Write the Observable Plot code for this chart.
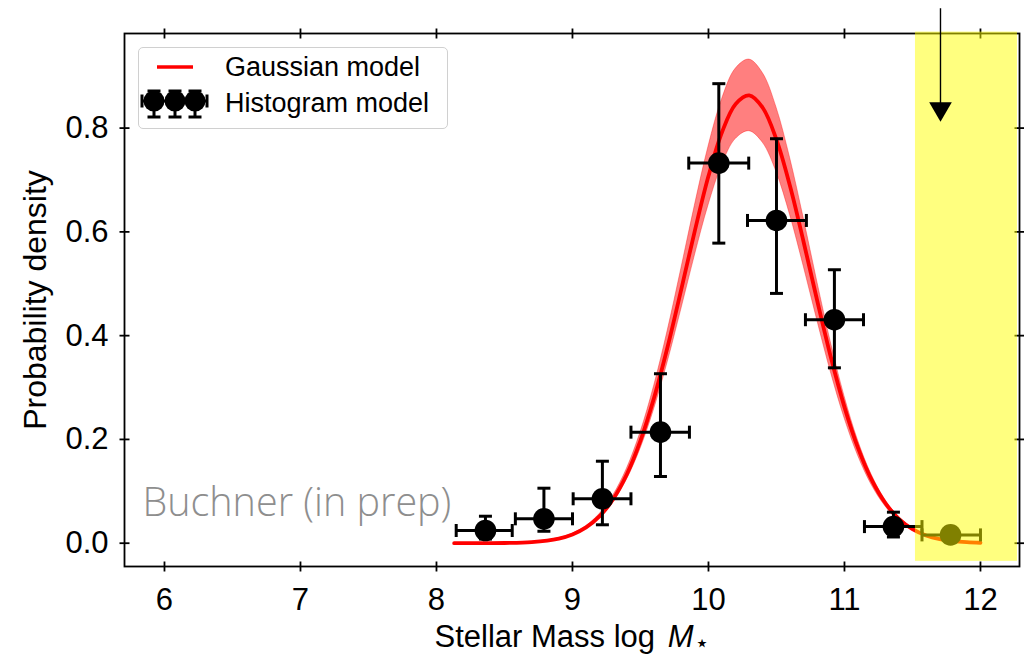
<!DOCTYPE html>
<html><head><meta charset="utf-8">
<script src="https://cdn.jsdelivr.net/npm/d3@7"></script>
<script src="https://cdn.jsdelivr.net/npm/@observablehq/plot@0.6"></script>
<style>
body{margin:0;background:#fff;}
#wrap{position:relative;width:1024px;height:656px;font-family:"Liberation Sans",Arial,Helvetica,sans-serif;}
#legend{position:absolute;left:138px;top:47px;width:310px;height:82px;box-sizing:border-box;border:1px solid #d0d0d0;border-radius:5px;background:rgba(255,255,255,0.85);}
#legend svg{position:absolute;left:-1px;top:-1px;overflow:visible;}
</style></head><body><div id="wrap"></div>
<script>
// ---- Gaussian model ----
const gaussX    = [8.13, 8.3, 8.5, 8.7, 8.9, 9.0, 9.1, 9.2, 9.3, 9.4, 9.5, 9.6, 9.7, 9.8, 9.9, 10.0, 10.1, 10.2, 10.3, 10.4, 10.5, 10.6, 10.7, 10.8, 10.9, 11.0, 11.1, 11.2, 11.3, 11.4, 11.5, 11.6, 11.7, 11.8, 11.9, 12.0];
const gaussMean = [0.0000, 0.0001, 0.0004, 0.0022, 0.0090, 0.0169, 0.0304, 0.0521, 0.0852, 0.1328, 0.1975, 0.2802, 0.3790, 0.4893, 0.6025, 0.7075, 0.7924, 0.8466, 0.8630, 0.8387, 0.7776, 0.6877, 0.5801, 0.4668, 0.3582, 0.2623, 0.1831, 0.1219, 0.0775, 0.0469, 0.0271, 0.0150, 0.0079, 0.0039, 0.0019, 0.0009];
const gaussLo   = [0.0000, 0.0001, 0.0004, 0.0020, 0.0083, 0.0155, 0.0280, 0.0479, 0.0784, 0.1222, 0.1817, 0.2578, 0.3487, 0.4502, 0.5543, 0.6509, 0.7290, 0.7789, 0.7940, 0.7716, 0.7154, 0.6327, 0.5337, 0.4295, 0.3295, 0.2413, 0.1685, 0.1121, 0.0713, 0.0431, 0.0249, 0.0138, 0.0073, 0.0036, 0.0017, 0.0008];
const gaussHi   = [0.0000, 0.0001, 0.0004, 0.0024, 0.0097, 0.0183, 0.0328, 0.0563, 0.0920, 0.1434, 0.2133, 0.3026, 0.4093, 0.5284, 0.6507, 0.7641, 0.8558, 0.9143, 0.9320, 0.9058, 0.8398, 0.7427, 0.6265, 0.5041, 0.3869, 0.2833, 0.1977, 0.1317, 0.0837, 0.0507, 0.0293, 0.0162, 0.0085, 0.0042, 0.0021, 0.0010];

// ---- Histogram model ----
const histX   = [8.36, 8.79, 9.22, 9.647, 10.076, 10.50, 10.926, 11.36, 11.78];
const histY   = [0.0245, 0.047, 0.0856, 0.214, 0.7325, 0.622, 0.4307, 0.032, 0.016];
const histYLo = [0.008, 0.023, 0.0355, 0.1286, 0.5783, 0.4814, 0.338, 0.012, 0.005];
const histYHi = [0.052, 0.106, 0.158, 0.3266, 0.8856, 0.7795, 0.527, 0.0598, 0.030];
const histXLo = [8.145, 8.58, 9.005, 9.43, 9.855, 10.287, 10.713, 11.147, 11.57];
const histXHi = [8.557, 9.00, 9.43, 9.86, 10.296, 10.72, 11.14, 11.57, 12.00];

// ---- Highlight band, arrow, annotation ----
const bandX1 = [11.522], bandX2 = [12.272], bandY1 = [-0.035], bandY2 = [0.985];
const arrowX = [11.706], arrowYStart = [1.031], arrowYEnd = [0.845], arrowHeadY = [0.8373];
const noteText = ["Buchner (in prep)"], noteX = [5.838], noteY = [0.053];

// ---- Axes ----
const xTicks = [6, 7, 8, 9, 10, 11, 12];
const xTickLabels = ["6", "7", "8", "9", "10", "11", "12"];
const yTicks = [0.0, 0.2, 0.4, 0.6, 0.8];
const yTickLabels = ["0.0", "0.2", "0.4", "0.6", "0.8"];
const xLabelText = "Stellar Mass log ", xLabelVar = "M", xLabelSub = "⋆";
const yLabel = "Probability density";
const legendLabels = ["Gaussian model", "Histogram model"];

const gauss = gaussX.map((x, i) => ({x, m: gaussMean[i], lo: gaussLo[i], hi: gaussHi[i]}));
const hist = histX.map((x, i) => ({x, y: histY[i], ylo: histYLo[i], yhi: histYHi[i], xlo: histXLo[i], xhi: histXHi[i]}));
const band = bandX1.map((x1, i) => ({x1, x2: bandX2[i], y1: bandY1[i], y2: bandY2[i]}));
const arrow = arrowX.map((x, i) => ({x, y1: arrowYStart[i], y2: arrowYEnd[i], yh: arrowHeadY[i]}));
const notes = noteText.map((t, i) => ({t, x: noteX[i], y: noteY[i]}));
const xt = xTicks.map((v, i) => ({v, label: xTickLabels[i]}));
const yt = yTicks.map((v, i) => ({v, label: yTickLabels[i]}));

const capH = {draw(ctx, size) { const r = Math.sqrt(size / Math.PI); ctx.moveTo(-r, 0); ctx.lineTo(r, 0); }};
const capV = {draw(ctx, size) { const r = Math.sqrt(size / Math.PI); ctx.moveTo(0, -r); ctx.lineTo(0, r); }};
const capStyle = {fill: "none", stroke: "black", strokeWidth: 3, r: 6.5};
const tickStyle = {fill: "none", stroke: "black", strokeWidth: 1.8, r: 5};

const chart = Plot.plot({
  width: 1024, height: 656,
  marginLeft: 124, marginRight: 5, marginTop: 33, marginBottom: 90,
  style: {fontFamily: "'Liberation Sans', Arial, Helvetica, sans-serif", fontSize: "31px", color: "black", background: "white", overflow: "visible"},
  x: {domain: [5.706, 12.287], axis: null},
  y: {domain: [-0.0449, 0.9823], axis: null},
  marks: [
    Plot.areaY(gauss, {x: "x", y1: "lo", y2: "hi", fill: "#ff0000", fillOpacity: 0.5, stroke: "#ff0000", strokeOpacity: 0.35, strokeWidth: 1, curve: "catmull-rom"}),
    Plot.lineY(gauss, {x: "x", y: "m", stroke: "#ff0000", strokeWidth: 3.8, curve: "catmull-rom"}),
    Plot.link(hist, {x1: "x", x2: "x", y1: "ylo", y2: "yhi", stroke: "black", strokeWidth: 3}),
    Plot.link(hist, {x1: "xlo", x2: "xhi", y1: "y", y2: "y", stroke: "black", strokeWidth: 3}),
    Plot.dot(hist, {x: "x", y: "ylo", symbol: capH, ...capStyle}),
    Plot.dot(hist, {x: "x", y: "yhi", symbol: capH, ...capStyle}),
    Plot.dot(hist, {x: "xlo", y: "y", symbol: capV, ...capStyle}),
    Plot.dot(hist, {x: "xhi", y: "y", symbol: capV, ...capStyle}),
    Plot.dot(hist, {x: "x", y: "y", r: 10.8, fill: "black", stroke: null}),
    Plot.frame({stroke: "black", strokeWidth: 1.8}),
    // ticks crossing the frame on all four sides
    Plot.dot(xt, {x: "v", frameAnchor: "bottom", symbol: capV, ...tickStyle}),
    Plot.dot(xt, {x: "v", frameAnchor: "top", symbol: capV, ...tickStyle}),
    Plot.dot(yt, {y: "v", frameAnchor: "left", symbol: capH, ...tickStyle}),
    Plot.dot(yt, {y: "v", frameAnchor: "right", symbol: capH, ...tickStyle}),
    // tick labels
    Plot.text(xt, {x: "v", text: "label", frameAnchor: "bottom", textAnchor: "middle", lineAnchor: "top", dy: 21, fontSize: 31}),
    Plot.text(yt, {y: "v", text: "label", frameAnchor: "left", textAnchor: "end", lineAnchor: "middle", dx: -16, fontSize: 31}),
    Plot.rect(band, {x1: "x1", x2: "x2", y1: "y1", y2: "y2", fill: "#ffff00", fillOpacity: 0.5}),
    Plot.link(arrow, {x1: "x", x2: "x", y1: "y1", y2: "y2", stroke: "black", strokeWidth: 1.4}),
    Plot.dot(arrow, {x: "x", y: "yh", symbol: "triangle", r: 8.4, rotate: 180, fill: "black", stroke: null}),
    Plot.text(notes, {x: "x", y: "y", text: "t", textAnchor: "start", lineAnchor: "bottom", fontSize: 39.5, fill: "#8e8e8e", fontFamily: "'Open Sans', 'Noto Sans', sans-serif", fontWeight: 300}),
    Plot.text([yLabel], {frameAnchor: "left", text: d => d, rotate: -90, textAnchor: "middle", dx: -89, fontSize: 32, lineAnchor: "middle"}),
    Plot.text([xLabelText + xLabelVar + xLabelSub], {frameAnchor: "bottom", text: d => d, textAnchor: "middle", lineAnchor: "bottom", dy: 80, fontSize: 31})
  ]
});

// rich formatting for the x label (italic variable with subscript)
chart.querySelectorAll("text").forEach(t => {
  if (t.textContent === xLabelText + xLabelVar + xLabelSub) {
    const ns = "http://www.w3.org/2000/svg";
    const tspans = t.querySelectorAll("tspan");
    const target = tspans.length ? tspans[0] : t;
    target.textContent = xLabelText;
    const v = document.createElementNS(ns, "tspan");
    v.setAttribute("font-style", "italic"); v.setAttribute("dx", "4"); v.textContent = xLabelVar;
    const s = document.createElementNS(ns, "tspan");
    s.setAttribute("font-size", "24"); s.setAttribute("dy", "4"); s.setAttribute("dx", "1"); s.setAttribute("font-family", "DejaVu Sans, sans-serif");
    s.textContent = xLabelSub;
    target.appendChild(v); target.appendChild(s);
  }
});

const wrap = document.getElementById("wrap");
wrap.appendChild(chart);

// legend
const lg = document.createElement("div");
lg.id = "legend";
const ns = "http://www.w3.org/2000/svg";
const svg = document.createElementNS(ns, "svg");
svg.setAttribute("width", 310); svg.setAttribute("height", 82);
const circles = [16, 37, 57].map(cx =>
  `<line x1="${cx}" x2="${cx}" y1="44" y2="70" stroke="black" stroke-width="3"/>` +
  `<line x1="${cx-6.5}" x2="${cx+6.5}" y1="44" y2="44" stroke="black" stroke-width="3"/>` +
  `<line x1="${cx-6.5}" x2="${cx+6.5}" y1="70" y2="70" stroke="black" stroke-width="3"/>` +
  `<circle cx="${cx}" cy="54" r="10.5" fill="black"/>`).join("");
svg.innerHTML =
  `<line x1="19" x2="55" y1="20" y2="20" stroke="#ff0000" stroke-width="3.5"/>` +
  `<text x="87" y="29" font-size="27" fill="black">${legendLabels[0]}</text>` +
  `<line x1="4" x2="69" y1="54" y2="54" stroke="black" stroke-width="3"/>` +
  `<line x1="4" x2="4" y1="47.5" y2="60.5" stroke="black" stroke-width="3"/>` +
  `<line x1="69" x2="69" y1="47.5" y2="60.5" stroke="black" stroke-width="3"/>` +
  circles +
  `<text x="87" y="65" font-size="27" fill="black">${legendLabels[1]}</text>`;
lg.appendChild(svg);
wrap.appendChild(lg);
</script>
</body></html>
